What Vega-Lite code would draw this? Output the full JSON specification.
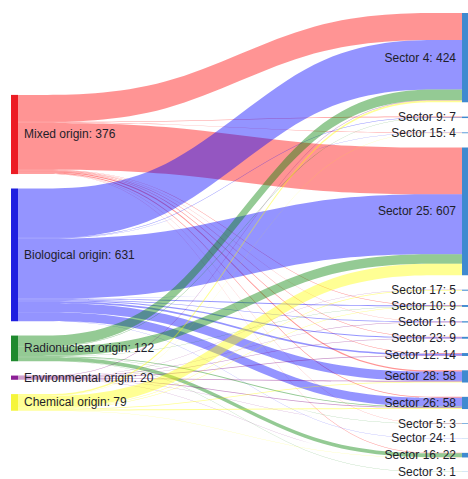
{
  "$schema": "https://vega.github.io/schema/vega-lite/v6.json",
  "width": 444,
  "height": 459,
  "padding": {"left": 18, "right": 6, "top": 13, "bottom": 7},
  "autosize": {"type": "none"},
  "background": "white",
  "config": {"view": {"stroke": null}},
  "data": {
    "values": [
      {"source": "Mixed origin", "target": "Sector 4", "value": 128},
      {"source": "Mixed origin", "target": "Sector 9", "value": 3},
      {"source": "Mixed origin", "target": "Sector 15", "value": 2},
      {"source": "Mixed origin", "target": "Sector 25", "value": 222},
      {"source": "Mixed origin", "target": "Sector 10", "value": 2},
      {"source": "Mixed origin", "target": "Sector 1", "value": 1},
      {"source": "Mixed origin", "target": "Sector 23", "value": 2},
      {"source": "Mixed origin", "target": "Sector 12", "value": 3},
      {"source": "Mixed origin", "target": "Sector 28", "value": 6},
      {"source": "Mixed origin", "target": "Sector 26", "value": 4},
      {"source": "Mixed origin", "target": "Sector 5", "value": 1},
      {"source": "Mixed origin", "target": "Sector 16", "value": 2},
      {"source": "Biological origin", "target": "Sector 4", "value": 235},
      {"source": "Biological origin", "target": "Sector 9", "value": 2},
      {"source": "Biological origin", "target": "Sector 15", "value": 1},
      {"source": "Biological origin", "target": "Sector 25", "value": 285},
      {"source": "Biological origin", "target": "Sector 17", "value": 1},
      {"source": "Biological origin", "target": "Sector 10", "value": 4},
      {"source": "Biological origin", "target": "Sector 1", "value": 3},
      {"source": "Biological origin", "target": "Sector 23", "value": 5},
      {"source": "Biological origin", "target": "Sector 12", "value": 8},
      {"source": "Biological origin", "target": "Sector 28", "value": 44},
      {"source": "Biological origin", "target": "Sector 26", "value": 42},
      {"source": "Biological origin", "target": "Sector 24", "value": 1},
      {"source": "Radionuclear origin", "target": "Sector 4", "value": 50},
      {"source": "Radionuclear origin", "target": "Sector 9", "value": 2},
      {"source": "Radionuclear origin", "target": "Sector 25", "value": 45},
      {"source": "Radionuclear origin", "target": "Sector 10", "value": 1},
      {"source": "Radionuclear origin", "target": "Sector 26", "value": 4},
      {"source": "Radionuclear origin", "target": "Sector 5", "value": 1},
      {"source": "Radionuclear origin", "target": "Sector 16", "value": 18},
      {"source": "Radionuclear origin", "target": "Sector 3", "value": 1},
      {"source": "Environmental origin", "target": "Sector 4", "value": 3},
      {"source": "Environmental origin", "target": "Sector 17", "value": 1},
      {"source": "Environmental origin", "target": "Sector 1", "value": 2},
      {"source": "Environmental origin", "target": "Sector 23", "value": 2},
      {"source": "Environmental origin", "target": "Sector 12", "value": 3},
      {"source": "Environmental origin", "target": "Sector 28", "value": 4},
      {"source": "Environmental origin", "target": "Sector 26", "value": 3},
      {"source": "Environmental origin", "target": "Sector 5", "value": 1},
      {"source": "Environmental origin", "target": "Sector 16", "value": 1},
      {"source": "Chemical origin", "target": "Sector 4", "value": 8},
      {"source": "Chemical origin", "target": "Sector 15", "value": 1},
      {"source": "Chemical origin", "target": "Sector 25", "value": 55},
      {"source": "Chemical origin", "target": "Sector 17", "value": 3},
      {"source": "Chemical origin", "target": "Sector 10", "value": 2},
      {"source": "Chemical origin", "target": "Sector 28", "value": 4},
      {"source": "Chemical origin", "target": "Sector 26", "value": 5},
      {"source": "Chemical origin", "target": "Sector 16", "value": 1}
    ]
  },
  "transform": [
    {"calculate": "indexof(['Mixed origin','Biological origin','Radionuclear origin','Environmental origin','Chemical origin'], datum.source)", "as": "si"},
    {"calculate": "indexof(['Sector 4','Sector 9','Sector 15','Sector 25','Sector 17','Sector 10','Sector 1','Sector 23','Sector 12','Sector 28','Sector 26','Sector 5','Sector 24','Sector 16','Sector 3'], datum.target)", "as": "ti"},
    {"window": [{"op": "sum", "field": "value", "as": "scum"}], "sort": [{"field": "si"}, {"field": "ti"}], "frame": [null, 0]},
    {"window": [{"op": "sum", "field": "value", "as": "tcum"}], "sort": [{"field": "ti"}, {"field": "si"}], "frame": [null, 0]},
    {"calculate": "datum.scum - datum.value + datum.si * 68 + 389", "as": "p0"},
    {"calculate": "datum.tcum - datum.value + datum.ti * 68", "as": "p3"}
  ],
  "layer": [
    {
      "transform": [
        {"calculate": "datum.p0", "as": "p1"},
        {"calculate": "datum.p3", "as": "p2"},
        {"fold": ["p0", "p1", "p2", "p3"], "as": ["stop", "top"]},
        {"calculate": "datum.top + datum.value", "as": "bottom"}
      ],
      "mark": {"type": "area", "interpolate": "basis", "fillOpacity": 0.42},
      "encoding": {
        "x": {"field": "stop", "type": "ordinal", "scale": {"type": "point", "domain": ["p0", "p1", "p2", "p3"], "padding": 0}, "axis": null},
        "y": {"field": "top", "type": "quantitative", "scale": {"domain": [0, 2180], "reverse": true, "nice": false, "zero": false}, "axis": null},
        "y2": {"field": "bottom"},
        "fill": {"field": "source", "type": "nominal", "scale": {"domain": ["Mixed origin", "Biological origin", "Radionuclear origin", "Environmental origin", "Chemical origin"], "range": ["#ff0000", "#0000ff", "#008000", "#800080", "#ffff00"]}, "legend": null},
        "detail": {"field": "target"}
      }
    },
    {
      "transform": [
        {"aggregate": [{"op": "min", "field": "p0", "as": "n0"}, {"op": "sum", "field": "value", "as": "total"}], "groupby": ["source"]},
        {"calculate": "datum.n0 + datum.total", "as": "n1"}
      ],
      "mark": {"type": "rule", "strokeWidth": 7, "xOffset": -3.5},
      "encoding": {
        "x": {"datum": "p0", "type": "ordinal", "axis": null},
        "y": {"field": "n0", "type": "quantitative", "axis": null},
        "y2": {"field": "n1"},
        "stroke": {"field": "source", "type": "nominal", "scale": {"domain": ["Mixed origin", "Biological origin", "Radionuclear origin", "Environmental origin", "Chemical origin"], "range": ["#ec1c24", "#1f1fe0", "#1f8a2e", "#8c1f96", "#f5f53a"]}, "legend": null}
      }
    },
    {
      "transform": [
        {"aggregate": [{"op": "min", "field": "p3", "as": "n0"}, {"op": "sum", "field": "value", "as": "total"}], "groupby": ["target"]},
        {"calculate": "datum.n0 + datum.total", "as": "n1"}
      ],
      "mark": {"type": "rule", "strokeWidth": 7, "xOffset": 3.5, "stroke": "#3f8ad0"},
      "encoding": {
        "x": {"datum": "p3", "type": "ordinal", "axis": null},
        "y": {"field": "n0", "type": "quantitative", "axis": null},
        "y2": {"field": "n1"}
      }
    },
    {
      "transform": [
        {"aggregate": [{"op": "min", "field": "p0", "as": "n0"}, {"op": "sum", "field": "value", "as": "total"}], "groupby": ["source"]},
        {"calculate": "datum.n0 + datum.total / 2", "as": "mid"},
        {"calculate": "datum.source + ': ' + datum.total", "as": "label"}
      ],
      "mark": {"type": "text", "align": "left", "baseline": "middle", "dx": 6, "font": "Liberation Sans", "fontSize": 12, "fill": "#1e1e2a"},
      "encoding": {
        "x": {"datum": "p0", "type": "ordinal", "axis": null},
        "y": {"field": "mid", "type": "quantitative", "axis": null},
        "text": {"field": "label"}
      }
    },
    {
      "transform": [
        {"aggregate": [{"op": "min", "field": "p3", "as": "n0"}, {"op": "sum", "field": "value", "as": "total"}], "groupby": ["target"]},
        {"calculate": "datum.n0 + datum.total / 2", "as": "mid"},
        {"calculate": "datum.target + ': ' + datum.total", "as": "label"}
      ],
      "mark": {"type": "text", "align": "right", "baseline": "middle", "dx": -6, "font": "Liberation Sans", "fontSize": 12, "fill": "#1e1e2a"},
      "encoding": {
        "x": {"datum": "p3", "type": "ordinal", "axis": null},
        "y": {"field": "mid", "type": "quantitative", "axis": null},
        "text": {"field": "label"}
      }
    }
  ]
}
